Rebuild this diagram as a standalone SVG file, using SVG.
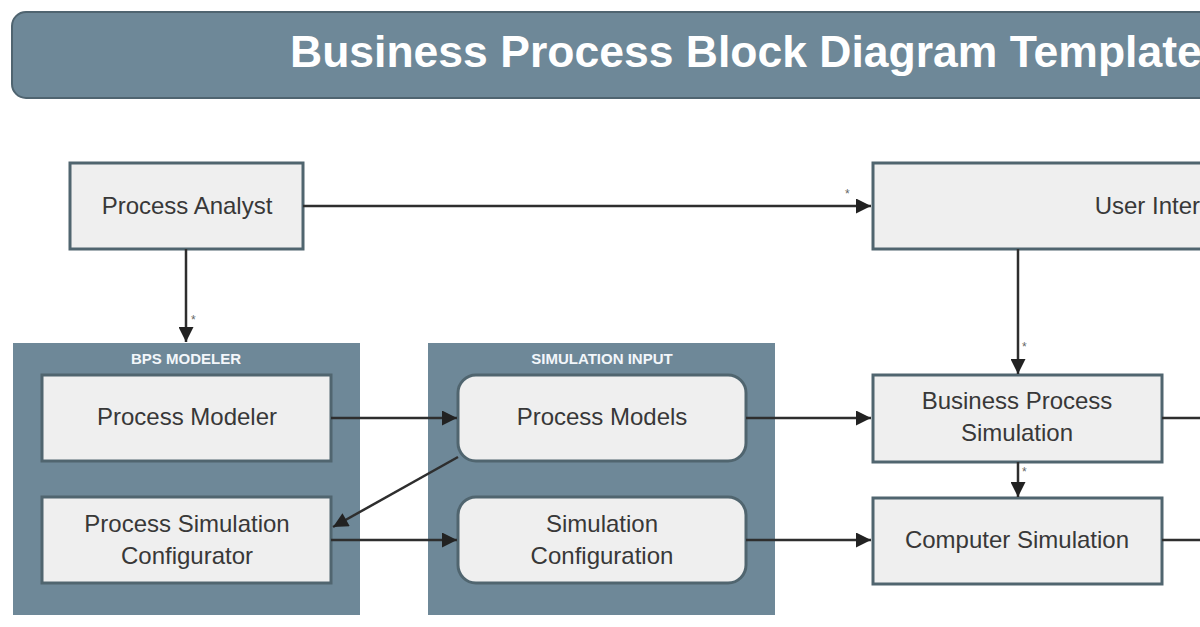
<svg xmlns="http://www.w3.org/2000/svg" width="1200" height="627" viewBox="0 0 1200 627">
<style>
.grp{fill:#6e8898}
.gl{font-family:"Liberation Sans",Arial,sans-serif;font-size:15px;font-weight:bold;fill:#f2f6fa;text-anchor:middle}
.nd{fill:#efefef;stroke:#50656f;stroke-width:3}
.t{font-family:"Liberation Sans",Arial,sans-serif;font-size:24px;fill:#383838;text-anchor:middle}
.c{stroke:#2e2e2e;stroke-width:2.5;fill:none}
.s{font-family:"Liberation Sans",Arial,sans-serif;font-size:12px;fill:#666}
</style>
<defs><marker id="ah" viewBox="0 0 10 10" refX="10" refY="5" markerWidth="17" markerHeight="15" markerUnits="userSpaceOnUse" orient="auto"><path d="M0,0L10,5L0,10z" fill="#222"/></marker></defs>
<rect width="1200" height="627" fill="#ffffff"/>
<g id="title"><rect x="12" y="12" width="1220" height="86" rx="14" fill="#6e8898" stroke="#4f6470" stroke-width="2"/>
<text x="290" y="67" font-family="Liberation Sans,Arial,sans-serif" font-size="44.5" font-weight="bold" fill="#ffffff">Business Process Block Diagram Template</text></g>
<g id="bps-modeler"><rect class="grp" x="13" y="343" width="347" height="272"/><text class="gl" x="186" y="364">BPS MODELER</text></g>
<g id="simulation-input"><rect class="grp" x="428" y="343" width="347" height="272"/><text class="gl" x="602" y="364">SIMULATION INPUT</text></g>
<g id="process-analyst"><rect class="nd" x="70" y="163" width="233" height="86"/><text class="t" x="187" y="214">Process Analyst</text></g>
<g id="user-interface"><rect class="nd" x="873" y="163" width="500" height="86"/><text class="t" x="1170" y="214">User Interface</text></g>
<g id="process-modeler"><rect class="nd" x="42" y="375" width="289" height="86"/><text class="t" x="187" y="425">Process Modeler</text></g>
<g id="process-simulation-configurator"><rect class="nd" x="42" y="497" width="289" height="86"/><text class="t" x="187" y="532">Process Simulation</text><text class="t" x="187" y="564">Configurator</text></g>
<g id="process-models"><rect class="nd" x="458" y="375" width="288" height="86" rx="18"/><text class="t" x="602" y="425">Process Models</text></g>
<g id="simulation-configuration"><rect class="nd" x="458" y="497" width="288" height="86" rx="18"/><text class="t" x="602" y="532">Simulation</text><text class="t" x="602" y="564">Configuration</text></g>
<g id="business-process-simulation"><rect class="nd" x="873" y="375" width="289" height="87"/><text class="t" x="1017" y="409">Business Process</text><text class="t" x="1017" y="441">Simulation</text></g>
<g id="computer-simulation"><rect class="nd" x="873" y="498" width="289" height="86"/><text class="t" x="1017" y="548">Computer Simulation</text></g>
<g id="connectors">
<line class="c" x1="303" y1="206" x2="871" y2="206" marker-end="url(#ah)"/>
<line class="c" x1="186" y1="249" x2="186" y2="342" marker-end="url(#ah)"/>
<line class="c" x1="1018" y1="249" x2="1018" y2="374" marker-end="url(#ah)"/>
<line class="c" x1="1018" y1="462" x2="1018" y2="497" marker-end="url(#ah)"/>
<line class="c" x1="331" y1="418" x2="457" y2="418" marker-end="url(#ah)"/>
<line class="c" x1="458" y1="457" x2="333" y2="527" marker-end="url(#ah)"/>
<line class="c" x1="331" y1="540" x2="457" y2="540" marker-end="url(#ah)"/>
<line class="c" x1="746" y1="418" x2="871" y2="418" marker-end="url(#ah)"/>
<line class="c" x1="746" y1="540" x2="871" y2="540" marker-end="url(#ah)"/>
<line class="c" x1="1162" y1="418" x2="1200" y2="418"/>
<line class="c" x1="1162" y1="540" x2="1200" y2="540"/>
<text class="s" x="845" y="198">*</text>
<text class="s" x="191" y="324">*</text>
<text class="s" x="1022" y="351">*</text>
<text class="s" x="1022" y="476">*</text>
</g>
</svg>
